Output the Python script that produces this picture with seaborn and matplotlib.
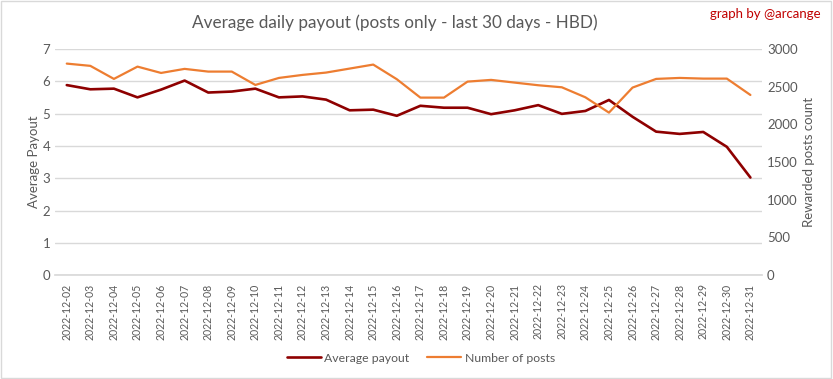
import numpy as np
import pandas as pd
import matplotlib
matplotlib.use("Agg")
import matplotlib.pyplot as plt
import seaborn as sns
from matplotlib.patches import Rectangle

# data
dates = [f"2022-12-{d:02d}" for d in range(2, 32)]
avg_payout = [5.88, 5.75, 5.77, 5.50, 5.74, 6.02, 5.65, 5.68, 5.77, 5.50,
              5.53, 5.43, 5.10, 5.12, 4.93, 5.24, 5.18, 5.18, 4.98, 5.10,
              5.26, 4.99, 5.08, 5.42, 4.90, 4.44, 4.37, 4.43, 3.97, 3.02]
num_posts = [2805, 2775, 2602, 2765, 2681, 2735, 2699, 2699, 2522, 2615,
             2655, 2686, 2739, 2792, 2598, 2354, 2354, 2566, 2589, 2553,
             2518, 2491, 2358, 2155, 2487, 2602, 2615, 2606, 2606, 2389]

df = pd.DataFrame({"date": dates, "avg": avg_payout, "posts": num_posts})

sns.set_theme(style="white")
plt.rcParams['font.family'] = ['Lato', 'DejaVu Sans']

gray = "#595959"
red = "#8E0000"
orange = "#ED7D31"

fig = plt.figure(figsize=(8.33, 3.79), dpi=100)
ax = fig.add_axes([0.066, 0.274, 0.849, 0.597])
ax2 = ax.twinx()

sns.lineplot(data=df, x="date", y="avg", ax=ax, color=red, linewidth=1.9,
             label="Average payout", legend=False)
sns.lineplot(data=df, x="date", y="posts", ax=ax2, color=orange, linewidth=1.6,
             label="Number of posts", legend=False)

ax.set_xlim(-0.5, len(dates) - 0.5)
ax.set_ylim(0, 7)
ax.set_yticks(range(0, 8))
ax2.set_ylim(0, 3000)
ax2.set_yticks(range(0, 3001, 500))

ax.yaxis.grid(True, color="#D9D9D9", linewidth=1)
ax.set_axisbelow(True)
for a in (ax, ax2):
    for s in a.spines.values():
        s.set_visible(False)
    a.tick_params(length=0, colors=gray, labelsize=9.5)
ax.spines["bottom"].set_visible(True)
ax.spines["bottom"].set_color("#D9D9D9")

ax.set_xticks(range(len(dates)))
ax.set_xticklabels(dates, rotation=90, fontsize=7.6, color=gray)
ax.tick_params(axis="x", pad=6)

ax.set_xlabel("")
ax.set_ylabel("Average Payout", color=gray, fontsize=9.5, labelpad=2)
ax2.set_ylabel("Rewarded posts count", color=gray, fontsize=9.5, labelpad=4)

fig.text(0.474, 0.94, "Average daily payout (posts only - last 30 days - HBD)",
         ha="center", va="center", fontsize=12.3, color=gray)
fig.text(0.985, 0.962, "graph by @arcange", ha="right", va="center",
         fontsize=9.5, color="#C00000")

h1, l1 = ax.get_legend_handles_labels()
h2, l2 = ax2.get_legend_handles_labels()
fig.legend(h1 + h2, l1 + l2, loc="center", bbox_to_anchor=(0.505, 0.055), ncol=2,
           frameon=False, fontsize=8.8, labelcolor=gray, handlelength=2.8,
           handletextpad=0.3, columnspacing=1.4)

fig.patches.append(Rectangle((0.001, 0.002), 0.997, 0.995, transform=fig.transFigure,
                             fill=False, edgecolor="#D9D9D9", linewidth=1))

fig.savefig("out.png", dpi=100)
